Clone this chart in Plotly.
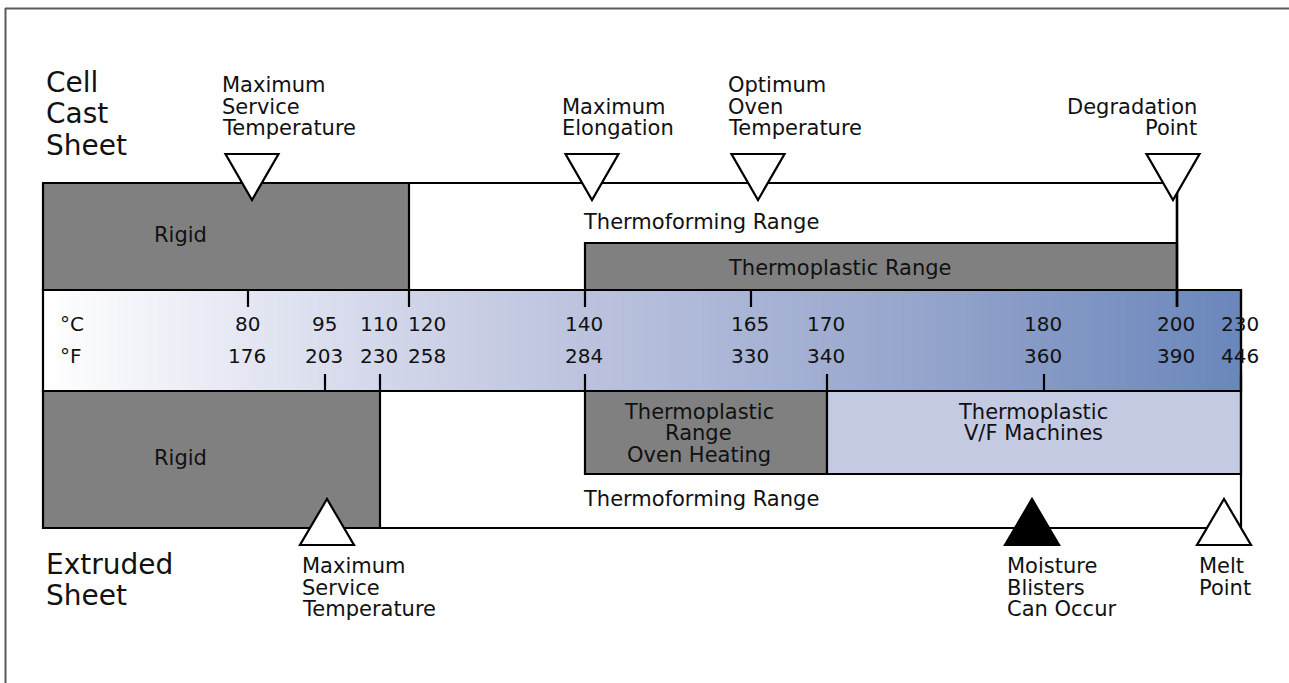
import plotly.graph_objects as go

# ---------------- data ----------------
celsius = [80, 95, 110, 120, 140, 165, 170, 180, 200, 230]
fahrenheit = [176, 203, 230, 258, 284, 330, 340, 360, 390, 446]

top_ticks_c = [80, 120, 140, 165, 200]
bottom_ticks_c = [95, 110, 140, 170, 180, 230]

# ranges in °C (None = start of the scale)
cast_rigid = (None, 120)
cast_thermoplastic = (140, 200)
cast_thermoforming = (120, 200)
ext_rigid = (None, 110)
ext_oven = (140, 170)
ext_vf = (170, 230)
ext_thermoforming = (110, 230)

cast_events = ["Maximum\nService\nTemperature", "Maximum\nElongation",
               "Optimum\nOven\nTemperature", "Degradation\nPoint"]
cast_event_c = [80, 140, 165, 200]
ext_events = ["Maximum\nService\nTemperature", "Moisture\nBlisters\nCan Occur", "Melt\nPoint"]
ext_event_c = [95, 180, 230]
ext_event_filled = [False, True, False]

# ---------------- layout of the diagram ----------------
W, H = 1289, 683
SCALE_START = 43
SCALE_POS = [248, 325, 380, 409, 585, 751, 827, 1044, 1177, 1241]  # non-linear diagram scale
XC = dict(zip(celsius, SCALE_POS))
LABEL_NUDGE = {120: 19}
CAST_TRI_NUDGE = [4, 7, 7, -4]
EXT_TRI_NUDGE = [2, -12, -17]

CAST_TOP, TP_TOP, SC_TOP, SC_BOT, OVEN_BOT, EXT_BOT = 183, 243, 290, 391, 474, 528

GRAY = "#808080"
VF = "#c5cae3"
INK = "#111111"
FONT = "DejaVu Sans"
LW = 2.2


def xs(c):
    return SCALE_START if c is None else XC[c]


fig = go.Figure()

# gradient scale band
N = 240
dx = (XC[230] - SCALE_START) / N
fig.add_trace(go.Heatmap(
    z=[list(range(N))], x0=SCALE_START + dx / 2, dx=dx, y0=(SC_TOP + SC_BOT) / 2, dy=SC_BOT - SC_TOP,
    colorscale=[[0, "#ffffff"], [0.28, "#d3d7ea"], [0.45, "#bcc3de"], [0.75, "#93a3cb"], [1, "#6a87bb"]],
    showscale=False, hoverinfo="skip"))

shapes = []


def rect(x0, x1, y0, y1, fill):
    shapes.append(dict(type="rect", xref="x", yref="y", x0=x0, x1=x1, y0=y0, y1=y1,
                       fillcolor=fill, line=dict(color="black", width=LW), layer="above"))


def line(x0, y0, x1, y1, w=LW, color="black"):
    shapes.append(dict(type="line", xref="x", yref="y", x0=x0, x1=x1, y0=y0, y1=y1,
                       line=dict(color=color, width=w), layer="above"))


# frame
line(5, 8.5, W, 8.5, 2, "#5a5a5a")
line(5.5, 8, 5.5, H, 2, "#5a5a5a")

# cast sheet
rect(xs(cast_rigid[0]), xs(cast_rigid[1]), CAST_TOP, SC_TOP, GRAY)
rect(xs(cast_thermoplastic[0]), xs(cast_thermoplastic[1]), TP_TOP, SC_TOP, GRAY)
line(xs(cast_thermoforming[0]), CAST_TOP, xs(cast_thermoforming[1]), CAST_TOP)
line(xs(cast_thermoforming[1]), CAST_TOP, xs(cast_thermoforming[1]), SC_TOP + 17, 2.6)

# scale band outline
rect(SCALE_START, XC[230], SC_TOP, SC_BOT, "rgba(0,0,0,0)")

# extruded sheet
rect(xs(ext_rigid[0]), xs(ext_rigid[1]), SC_BOT, EXT_BOT, GRAY)
rect(xs(ext_oven[0]), xs(ext_oven[1]), SC_BOT, OVEN_BOT, GRAY)
rect(xs(ext_vf[0]), xs(ext_vf[1]), SC_BOT, OVEN_BOT, VF)
line(xs(ext_thermoforming[0]), EXT_BOT, xs(ext_thermoforming[1]), EXT_BOT)
line(xs(ext_thermoforming[1]), SC_TOP, xs(ext_thermoforming[1]), EXT_BOT)

# ticks
for c in top_ticks_c:
    line(XC[c], SC_TOP, XC[c], SC_TOP + 17)
for c in bottom_ticks_c:
    line(XC[c], SC_BOT - 17, XC[c], SC_BOT)

# triangles
for c, nd in zip(cast_event_c, CAST_TRI_NUDGE):
    cx = XC[c] + nd
    shapes.append(dict(type="path", xref="x", yref="y",
                       path=f"M {cx-26.5} 154 L {cx+26.5} 154 L {cx} 200 Z",
                       fillcolor="white", line=dict(color="black", width=LW), layer="above"))
for c, nd, filled in zip(ext_event_c, EXT_TRI_NUDGE, ext_event_filled):
    cx = XC[c] + nd
    shapes.append(dict(type="path", xref="x", yref="y",
                       path=f"M {cx-27} 545 L {cx+27} 545 L {cx} 499 Z",
                       fillcolor="black" if filled else "white",
                       line=dict(color="black", width=LW), layer="above"))

annotations = []


def text(x, y, s, size=21, anchor="left"):
    annotations.append(dict(x=x, y=y, xref="x", yref="y", text=s, showarrow=False,
                            xanchor=anchor, yanchor="middle",
                            font=dict(family=FONT, size=size, color=INK)))


def block(x, y_first, s, size=21, anchor="left", step=21.5):
    for i, ln in enumerate(s.split("\n")):
        text(x, y_first + i * step, ln, size, anchor)


# big side labels
block(44, 82, "Cell\nCast\nSheet", 28, step=31.5)
block(44, 564, "Extruded\nSheet", 28, step=31.5)

# top event labels (bottom line at y=128)
for s, c, nd in zip(cast_events, cast_event_c, CAST_TRI_NUDGE):
    cx = XC[c] + nd
    n = s.count("\n")
    if c == 200:
        block(cx + 26, 128 - n * 21.5, s, anchor="right")
    else:
        block(cx - 32, 128 - n * 21.5, s)

# bottom event labels
for s, c, nd in zip(ext_events, ext_event_c, EXT_TRI_NUDGE):
    cx = XC[c] + nd
    block(cx - 27, 566, s)

# region labels
text(701, 222, "Thermoforming Range", anchor="center")
text(839, 267.5, "Thermoplastic Range", anchor="center")
text(180.5, 235, "Rigid", anchor="center")
text(180.5, 458, "Rigid", anchor="center")
block(698.5, 411.7, "Thermoplastic\nRange\nOven Heating", anchor="center")
block(1033, 411.7, "Thermoplastic\nV/F Machines", anchor="center")
text(701, 499, "Thermoforming Range", anchor="center")

# scale labels
text(58, 323.5, "°C", 20)
text(58, 355.5, "°F", 20)
for c, f in zip(celsius, fahrenheit):
    x = XC[c] + LABEL_NUDGE.get(c, 0) - 1
    text(x, 323.5, str(c), 20, "center")
    text(x, 355.5, str(f), 20, "center")

fig.update_layout(
    width=W, height=H, margin=dict(l=0, r=0, t=0, b=0),
    paper_bgcolor="white", plot_bgcolor="white",
    xaxis=dict(range=[0, W], visible=False, fixedrange=True),
    yaxis=dict(range=[H, 0], visible=False, fixedrange=True),
    shapes=shapes, annotations=annotations, showlegend=False, hovermode=False,
)

fig.write_html("out.html", config={"displayModeBar": False},
               post_script="document.body.style.margin='0';")
